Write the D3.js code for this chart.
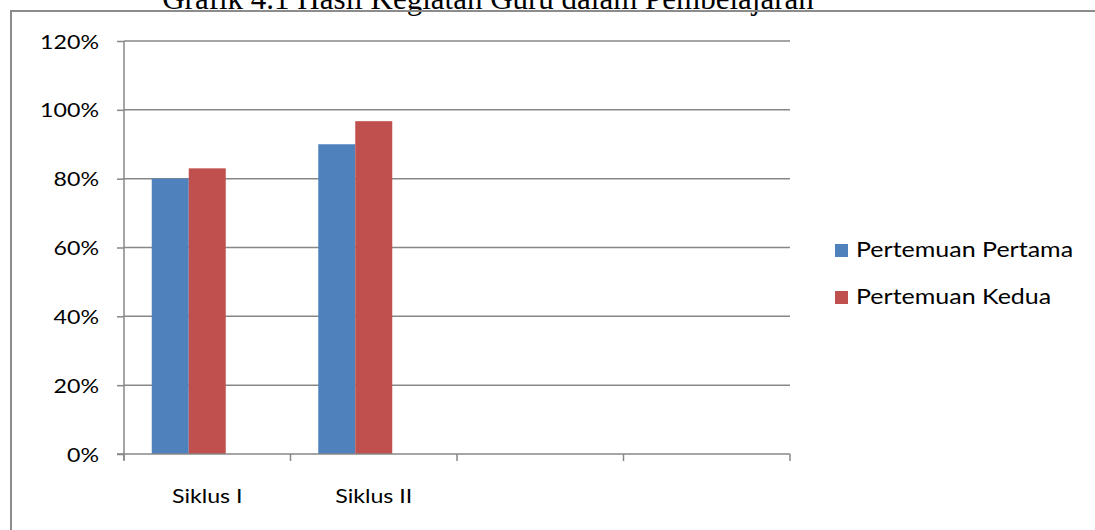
<!DOCTYPE html>
<html>
<head>
<meta charset="utf-8">
<script src="https://cdnjs.cloudflare.com/ajax/libs/d3/7.8.5/d3.min.js"></script>
<style>
  html, body { margin: 0; padding: 0; background: #fff; }
  svg { display: block; }
  text { font-family: Lato, "Open Sans", sans-serif; fill: #000; }
</style>
</head>
<body>
<svg class="chart" width="1095" height="530"></svg>
<script>
// chart values
const title = 'Grafik 4.1 Hasil Kegiatan Guru dalam Pembelajaran'
const categories = ['Siklus I', 'Siklus II', '', '']
const seriesNames = ['Pertemuan Pertama', 'Pertemuan Kedua', '']  // 3rd slot is empty in the original
const pertama = [0.80, 0.90, null, null]
const kedua = [0.83, 0.967, null, null]
const kosong = [null, null, null, null]
const yTicks = [0, 0.2, 0.4, 0.6, 0.8, 1.0, 1.2]
const colors = ['#4F81BD', '#C0504D', '#9BBB59']

const svg = d3.select('svg.chart')
const W = 1095, H = 530
const stretch = 1.22 // text in the picture looks a bit wide
const gridColor = '#878787'

// frame + title (the title sits mostly above the visible page, like the scan)
svg.append('text')
  .attr('x', 488).attr('y', 9)
  .attr('text-anchor', 'middle')
  .style('font-family', '"Liberation Serif", "DejaVu Serif", serif')
  .style('font-size', '31px')
  .text(title)

svg.append('path')
  .attr('d', `M11,${H} V11 H${W}`)
  .attr('fill', 'none')
  .attr('stroke', '#8c8c8c')
  .attr('stroke-width', 2)

const pLeft = 124, pRight = 790, pTop = 41, pBottom = 454

const x = d3.scaleBand().domain(d3.range(categories.length)).range([pLeft, pRight]).padding(0)
const xs = d3.scaleBand().domain(d3.range(seriesNames.length))
  .range([0, x.bandwidth()]).paddingInner(0).paddingOuter(0.75)
const y = d3.scaleLinear().domain([0, 1.2]).range([pBottom, pTop])

// gridlines
svg.append('g')
  .selectAll('line')
  .data(yTicks.filter(d => d > 0))
  .join('line')
  .attr('x1', pLeft).attr('x2', pRight)
  .attr('y1', d => y(d)).attr('y2', d => y(d))
  .attr('stroke', gridColor).attr('stroke-width', 1.5)

// bars
const allSeries = [pertama, kedua, kosong]
allSeries.forEach((vals, si) => {
  svg.append('g')
    .attr('fill', colors[si])
    .selectAll('rect')
    .data(vals.map((v, i) => ({ v, i })).filter(d => d.v != null))
    .join('rect')
    .attr('x', d => x(d.i) + xs(si))
    .attr('width', xs.bandwidth())
    .attr('y', d => y(d.v))
    .attr('height', d => y(0) - y(d.v))
})

// y axis
const yAxis = svg.append('g')
  .attr('transform', `translate(${pLeft},0)`)
  .call(d3.axisLeft(y).tickValues(yTicks).tickFormat(d3.format('.0%')).tickSize(7).tickPadding(0))
yAxis.select('.domain').attr('stroke', gridColor).attr('stroke-width', 1.5)
  .attr('d', `M0,${pTop} V${pBottom + 6}`)
yAxis.selectAll('.tick line').attr('stroke', gridColor).attr('stroke-width', 1.5)
yAxis.selectAll('.tick text').remove()
yAxis.selectAll('.tick').append('text')
  .attr('text-anchor', 'end')
  .attr('transform', `translate(-25,7) scale(${stretch},1)`)
  .style('font-size', '19px')
  .text(d => d3.format('.0%')(d))

// x axis
const xAxis = svg.append('g').attr('transform', `translate(0,${pBottom})`)
xAxis.append('line')
  .attr('x1', pLeft - 7).attr('x2', pRight)
  .attr('stroke', gridColor).attr('stroke-width', 1.5)
xAxis.selectAll('line.tk')
  .data(d3.range(categories.length + 1))
  .join('line')
  .attr('class', 'tk')
  .attr('x1', i => pLeft + i * x.step()).attr('x2', i => pLeft + i * x.step())
  .attr('y1', 0).attr('y2', 7)
  .attr('stroke', gridColor).attr('stroke-width', 1.5)
xAxis.selectAll('text')
  .data(categories.map((c, i) => ({ c, i })).filter(d => d.c))
  .join('text')
  .attr('text-anchor', 'middle')
  .attr('transform', d => `translate(${x(d.i) + x.bandwidth() / 2},49) scale(${stretch},1)`)
  .style('font-size', '19px')
  .text(d => d.c)

// legend
const legend = svg.append('g').attr('transform', 'translate(835,250)')
seriesNames.slice(0, 2).forEach((name, i) => {
  const g = legend.append('g').attr('transform', `translate(0,${i * 47})`)
  g.append('rect').attr('x', 0).attr('y', -6).attr('width', 13).attr('height', 13).attr('fill', colors[i])
  g.append('text')
    .attr('transform', `translate(21,7) scale(${stretch},1)`)
    .style('font-size', '20.5px')
    .text(name)
})
</script>
</body>
</html>
